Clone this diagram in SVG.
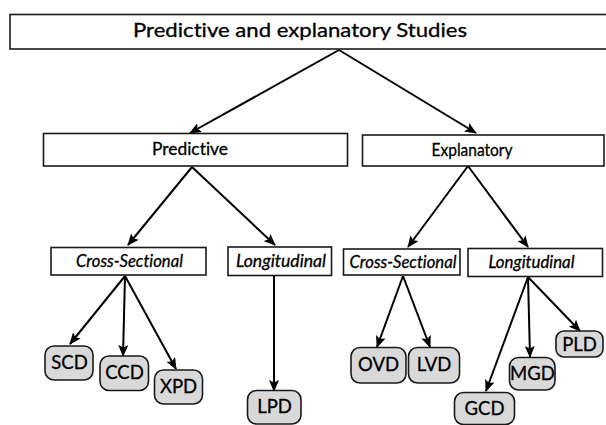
<svg xmlns="http://www.w3.org/2000/svg" width="606" height="425" viewBox="0 0 606 425">
  <defs>
    <marker id="arrow" viewBox="0 0 12 10" markerWidth="12" markerHeight="10" refX="11" refY="5" orient="auto" markerUnits="userSpaceOnUse">
      <path d="M0,0 L12,5 L0,10 L2.5,5 Z" fill="#000"/>
    </marker>
    <style>
      .box { fill: #fff; stroke: #1a1a1a; stroke-width: 1.6; }
      .leaf { fill: #d9d9d9; stroke: #1a1a1a; stroke-width: 1.6; }
      .lbl { font-family: "Lato", "Open Sans", "Liberation Sans", sans-serif; font-variant-ligatures: none; fill: #000; stroke: #000; stroke-width: 0.3; text-anchor: middle; }
      .t1 { font-size: 19.5px; }
      .t2 { font-size: 16.5px; }
      .t3 { font-size: 17px; font-style: italic; }
      .t4 { font-size: 18.5px; }
      .conn line { stroke: #000; stroke-width: 2; marker-end: url(#arrow); }
    </style>
  </defs>
  <rect width="606" height="425" fill="#fff"/>

  <g id="connectors" class="conn">
    <line x1="339" y1="50" x2="190" y2="133"/>
    <line x1="339" y1="50" x2="476" y2="133"/>
    <line x1="192" y1="167" x2="128" y2="245"/>
    <line x1="192" y1="167" x2="275" y2="245"/>
    <line x1="468" y1="166" x2="408" y2="247"/>
    <line x1="468" y1="166" x2="528" y2="247"/>
    <line x1="125" y1="276" x2="70" y2="344"/>
    <line x1="125" y1="276" x2="123" y2="356"/>
    <line x1="125" y1="276" x2="176" y2="369"/>
    <line x1="274" y1="276" x2="274" y2="391"/>
    <line x1="403" y1="276" x2="377" y2="347"/>
    <line x1="403" y1="276" x2="430" y2="347"/>
    <line x1="528" y1="277" x2="486" y2="391"/>
    <line x1="528" y1="277" x2="530" y2="357"/>
    <line x1="528" y1="277" x2="580" y2="331"/>
  </g>

  <g id="root">
    <rect class="box" x="10" y="14.5" width="600" height="34.5"/>
    <text class="lbl t1" x="300" y="37" textLength="334" lengthAdjust="spacingAndGlyphs">Predictive and explanatory Studies</text>
  </g>

  <g id="predictive">
    <rect class="box" x="43.5" y="133.5" width="304" height="32.5"/>
    <text class="lbl t2" x="190" y="155" textLength="76" lengthAdjust="spacingAndGlyphs">Predictive</text>
  </g>
  <g id="explanatory">
    <rect class="box" x="362.5" y="135" width="241.5" height="31"/>
    <text class="lbl t2" x="472" y="156" textLength="81" lengthAdjust="spacingAndGlyphs">Explanatory</text>
  </g>

  <g id="pred-cross">
    <rect class="box" x="51" y="247.5" width="155" height="27.5"/>
    <text class="lbl t3" x="129.5" y="266.5" textLength="107" lengthAdjust="spacingAndGlyphs">Cross-Sectional</text>
  </g>
  <g id="pred-long">
    <rect class="box" x="228" y="247" width="103.5" height="28.5"/>
    <text class="lbl t3" x="281" y="266.5" textLength="90" lengthAdjust="spacingAndGlyphs">Longitudinal</text>
  </g>
  <g id="expl-cross">
    <rect class="box" x="343.5" y="249" width="116.5" height="26"/>
    <text class="lbl t3" x="403" y="267.5" textLength="107" lengthAdjust="spacingAndGlyphs">Cross-Sectional</text>
  </g>
  <g id="expl-long">
    <rect class="box" x="468" y="248.5" width="134.5" height="28"/>
    <text class="lbl t3" x="531.5" y="268" textLength="86" lengthAdjust="spacingAndGlyphs">Longitudinal</text>
  </g>

  <g id="scd">
    <rect class="leaf" x="45" y="346" width="48" height="34" rx="9"/>
    <text class="lbl t4" x="69.5" y="368.5">SCD</text>
  </g>
  <g id="ccd">
    <rect class="leaf" x="100" y="356" width="48.5" height="34.5" rx="9"/>
    <text class="lbl t4" x="124.5" y="379">CCD</text>
  </g>
  <g id="xpd">
    <rect class="leaf" x="154.5" y="370" width="48" height="34" rx="9"/>
    <text class="lbl t4" x="178.5" y="392.5">XPD</text>
  </g>
  <g id="lpd">
    <rect class="leaf" x="247.5" y="390.5" width="53.5" height="33.5" rx="9"/>
    <text class="lbl t4" x="274.5" y="413">LPD</text>
  </g>
  <g id="ovd">
    <rect class="leaf" x="351" y="347.5" width="55" height="35.5" rx="9"/>
    <text class="lbl t4" x="378.5" y="371">OVD</text>
  </g>
  <g id="lvd">
    <rect class="leaf" x="408.5" y="347.5" width="51" height="35.5" rx="9"/>
    <text class="lbl t4" x="434" y="371">LVD</text>
  </g>
  <g id="gcd">
    <rect class="leaf" x="454.5" y="392.5" width="60" height="32" rx="9"/>
    <text class="lbl t4" x="484.5" y="415">GCD</text>
  </g>
  <g id="mgd">
    <rect class="leaf" x="509.5" y="357.5" width="45.5" height="32.5" rx="9"/>
    <text class="lbl t4" x="532.5" y="380">MGD</text>
  </g>
  <g id="pld">
    <rect class="leaf" x="556" y="331" width="47" height="26" rx="8"/>
    <text class="lbl t4" x="579.5" y="350.5">PLD</text>
  </g>
</svg>
